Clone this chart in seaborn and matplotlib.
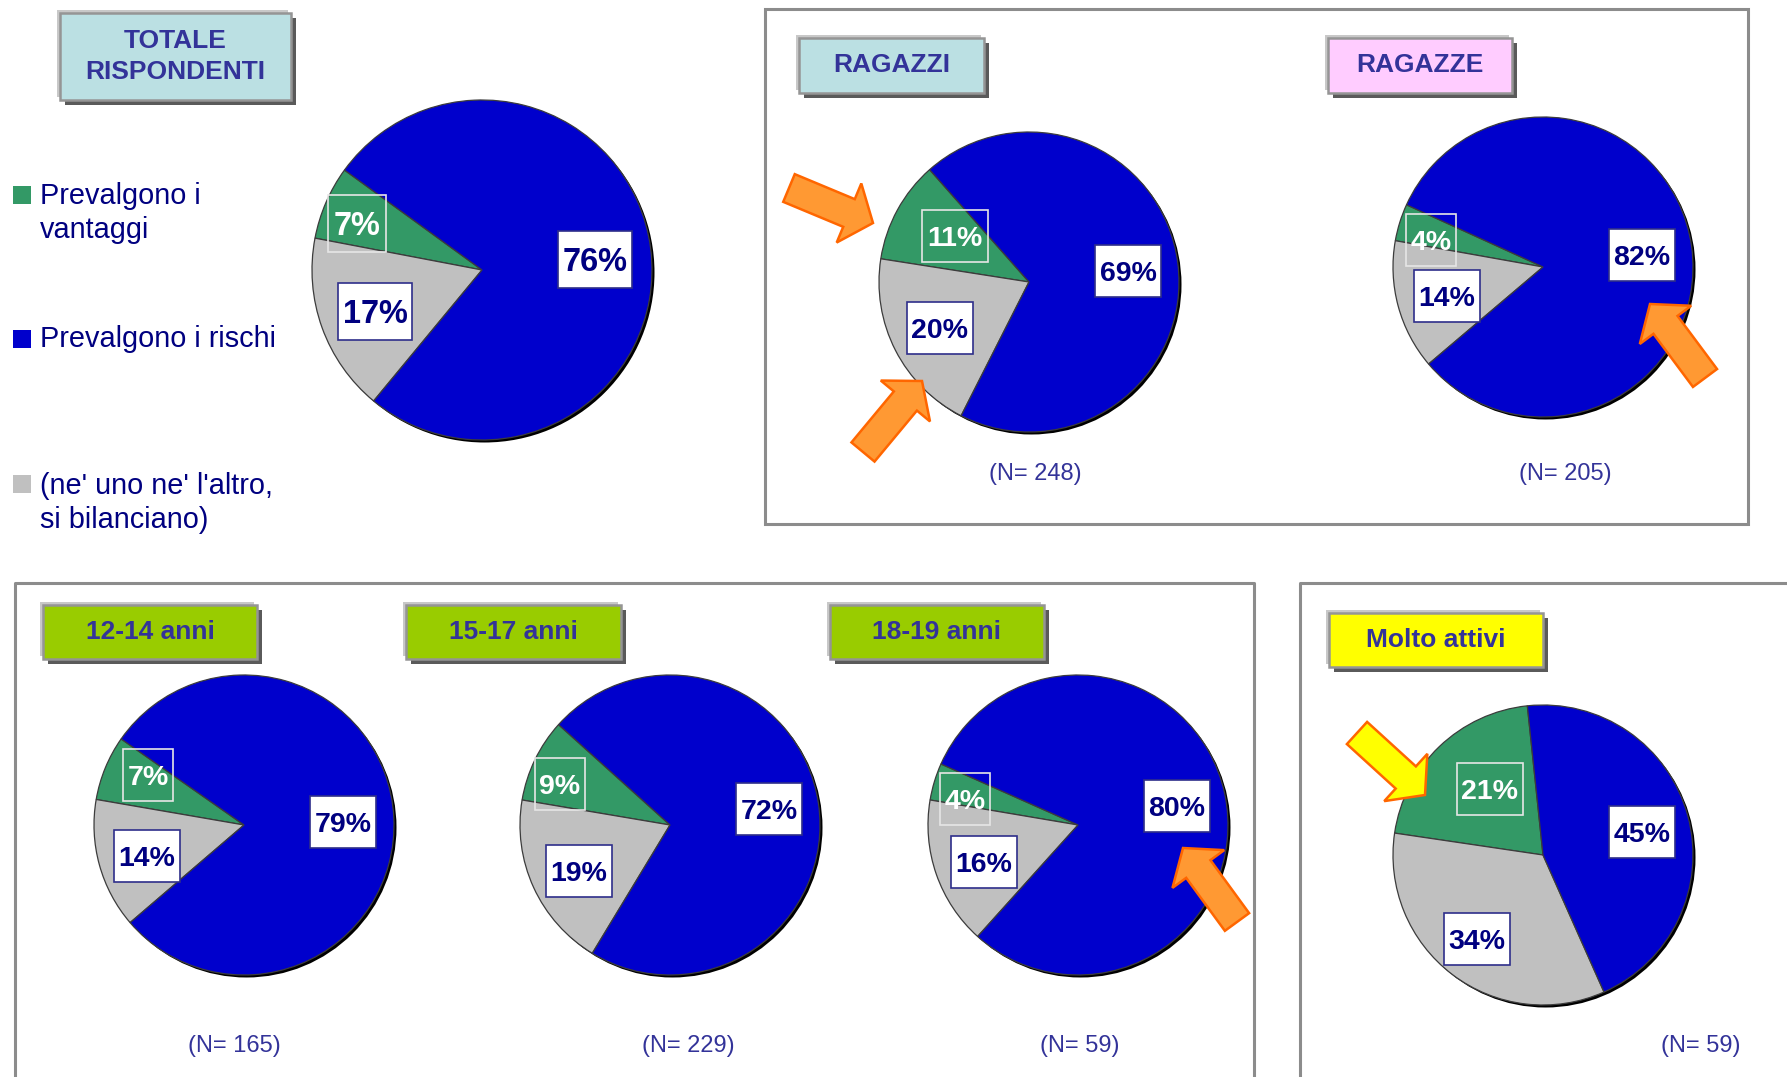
import matplotlib
matplotlib.use("Agg")
import matplotlib.pyplot as plt
from matplotlib.patches import Rectangle, Circle, FancyArrow
import seaborn as sns

# ---- data -------------------------------------------------------------
legend_labels = ["Prevalgono i\nvantaggi", "Prevalgono i rischi",
                 "(ne' uno ne' l'altro,\nsi bilanciano)"]
groups = ["TOTALE\nRISPONDENTI", "RAGAZZI", "RAGAZZE",
          "12-14 anni", "15-17 anni", "18-19 anni", "Molto attivi"]
vantaggi = [7, 11, 4, 7, 9, 4, 21]        # % "Prevalgono i vantaggi"
rischi = [76, 69, 82, 79, 72, 80, 45]     # % "Prevalgono i rischi"
bilanciano = [17, 20, 14, 14, 19, 16, 34]  # % "ne' uno ne' l'altro"
sample_n = [None, 248, 205, 165, 229, 59, 59]

# ---- style ------------------------------------------------------------
sns.set_theme(style="white")
plt.rcParams["font.family"] = ["Liberation Sans", "DejaVu Sans"]

GREEN, BLUE, GREY = "#339966", "#0000CC", "#C0C0C0"
NAVY, TITLE_C = "#000080", "#333399"
slice_colors = sns.color_palette([GREEN, GREY, BLUE])

W, H = 1787, 1077
fig = plt.figure(figsize=(W / 100, H / 100), dpi=100)
ax = fig.add_axes([0, 0, 1, 1])


def Y(y):
    """top-down pixel row -> axis coordinate"""
    return H - y


# ---- layout (pixel positions, y measured from the top) ----------------
pie_center = [(482, 270), (1029, 282), (1543, 267), (244, 825),
              (670, 825), (1078, 825), (1543, 855)]
pie_radius = [170, 150, 150, 150, 150, 150, 150]
start_angle = [144, 131.5, 155.5, 145, 138, 156, 96]
label_pos = [  # (vantaggi, bilanciano, rischi)
    [(357, 223), (375, 311), (595, 259)],
    [(955, 236), (940, 328), (1128, 271)],
    [(1431, 240), (1447, 296), (1642, 255)],
    [(148, 775), (147, 856), (343, 822)],
    [(560, 784), (579, 871), (769, 809)],
    [(965, 799), (984, 862), (1177, 806)],
    [(1490, 789), (1477, 939), (1642, 832)],
]
title_box = [(60, 13, 291, 100), (799, 38, 984, 93), (1328, 38, 1512, 93),
             (43, 605, 257, 659), (406, 605, 621, 659), (830, 605, 1044, 659),
             (1329, 613, 1543, 667)]
title_fill = ["#BBE0E3", "#BBE0E3", "#FFCCFF", "#99CC00", "#99CC00",
              "#99CC00", "#FFFF00"]
n_pos = [None, (1035, 474), (1565, 474), (234, 1046), (688, 1046),
         (1080, 1046), (1701, 1046)]

# ---- panel frames -----------------------------------------------------
frame_kw = dict(fill=False, ec="#8c8c8c", lw=2.2, zorder=1)
ax.add_patch(Rectangle((765, Y(524)), 983, 515, **frame_kw))
ax.plot([15, 15, 1254, 1254], [0, Y(583), Y(583), 0], color="#8c8c8c",
        lw=2.2, zorder=1)
ax.plot([1300, 1300, W + 5], [0, Y(583), Y(583)], color="#8c8c8c",
        lw=2.2, zorder=1)


# ---- helpers ----------------------------------------------------------
def draw_title(box, text, fc):
    x0, y0, x1, y1 = box
    w, h = x1 - x0, y1 - y0
    ax.add_patch(Rectangle((x0 - 3, Y(y1) + 3), w, h, fc="#C8C8C8",
                           ec="none", zorder=3))
    ax.add_patch(Rectangle((x0 + 5, Y(y1) - 5), w, h, fc="#5A5A5A",
                           ec="none", zorder=3))
    ax.add_patch(Rectangle((x0, Y(y1)), w, h, fc=fc, ec="#959595",
                           lw=1.8, zorder=4))
    ax.text((x0 + x1) / 2, Y((y0 + y1) / 2), text, ha="center", va="center",
            fontsize=19, fontweight="bold", color=TITLE_C, linespacing=1.35,
            zorder=5)


def draw_label(pos, value, kind, big):
    x, y = pos
    txt = f"{value}%"
    if big:
        w = 58 if len(txt) == 2 else 74
        h, fs = 57, 23.5
    else:
        w = 50 if len(txt) == 2 else 66
        h, fs = 52, 20.5
    if kind == "green":
        fc, ec, tc = "none", "#E6E6E6", "white"
    else:
        fc, ec, tc = "white", "#2E2E8A", NAVY
    ax.add_patch(Rectangle((x - w / 2, Y(y) - h / 2), w, h, fc=fc, ec=ec,
                           lw=1.2, zorder=7))
    ax.text(x, Y(y), txt, ha="center", va="center_baseline", fontsize=fs,
            fontweight="bold", color=tc, zorder=8)


# ---- pies -------------------------------------------------------------
for i, name in enumerate(groups):
    cx, cy = pie_center[i]
    r = pie_radius[i]
    ax.add_patch(Circle((cx + 2.5, Y(cy) - 2.5), r, fc="black", ec="none",
                        zorder=2))
    wedges, _ = ax.pie([vantaggi[i], bilanciano[i], rischi[i]],
                       colors=slice_colors, startangle=start_angle[i],
                       counterclock=True, center=(cx, Y(cy)), radius=r,
                       wedgeprops=dict(edgecolor="#3C3C3C", linewidth=0.9),
                       frame=True)
    for wdg in wedges:
        wdg.set_zorder(3)
    vals = [vantaggi[i], bilanciano[i], rischi[i]]
    for pos, v, kind in zip(label_pos[i], vals, ["green", "grey", "blue"]):
        draw_label(pos, v, kind, big=(i == 0))
    draw_title(title_box[i], name, title_fill[i])
    if sample_n[i] is not None:
        nx, ny = n_pos[i]
        ax.text(nx, Y(ny), f"(N= {sample_n[i]})", ha="center", va="center",
                fontsize=17, color=TITLE_C, zorder=5)

# ---- legend -----------------------------------------------------------
for lab, col, (sq_y, tx_y) in zip(legend_labels, [GREEN, BLUE, GREY],
                                  [(195, 213), (339, 339), (484, 503)]):
    ax.add_patch(Rectangle((13, Y(sq_y) - 9), 18, 18, fc=col, ec="none",
                           zorder=5))
    ax.text(40, Y(tx_y), lab, ha="left", va="center", fontsize=20.8,
            color=NAVY, linespacing=1.25, zorder=5)

# ---- highlight arrows -------------------------------------------------
arrows = [((789, 188), (873, 223), "#FF9933"),
          ((863, 452), (922, 381), "#FF9933"),
          ((1705, 378), (1650, 304), "#FF9933"),
          ((1237, 922), (1183, 848), "#FF9933"),
          ((1357, 733), (1425, 795), "#FFFF00")]
for (tx, ty), (hx, hy), col in arrows:
    ax.add_patch(FancyArrow(tx, Y(ty), hx - tx, Y(hy) - Y(ty), width=30,
                            head_width=64, head_length=26,
                            length_includes_head=True, fc=col, ec="#FF6600",
                            lw=1.8, zorder=9))

ax.set_xlim(0, W)
ax.set_ylim(0, H)
ax.set_aspect("equal")
ax.axis("off")
fig.savefig("out.png", dpi=100, facecolor="white")
